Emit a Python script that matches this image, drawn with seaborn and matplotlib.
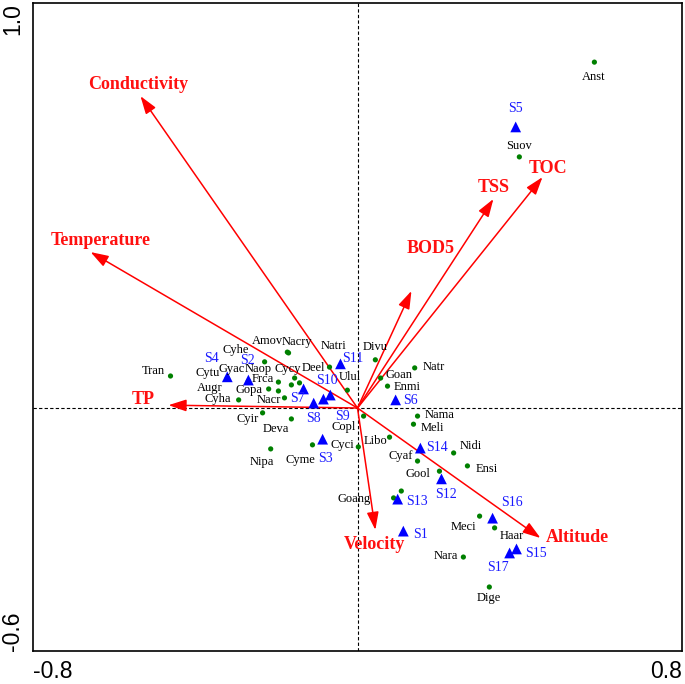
import numpy as np
import pandas as pd
import matplotlib
matplotlib.use("Agg")
import matplotlib.pyplot as plt
import seaborn as sns

# species scores
species_names = ["Anst", "Suov", "Tran", "Cyhe", "Amov", "Nacry", "Cytu", "Gyac", "Naop",
                 "Cycy", "Frca", "Augr", "Gopa", "Cyha", "Nacr", "Deel", "Natri", "Ulul",
                 "Divu", "Natr", "Goan", "Enmi", "Nama", "Meli", "Libo", "Copl", "Cyci",
                 "Cyir", "Deva", "Nipa", "Cyme", "Nidi", "Cyaf", "Ensi", "Gool", "Goang",
                 "", "Meci", "Haar", "Nara", "Dige"]
species_x = [0.584, 0.399, -0.461, -0.229, -0.173, -0.170, -0.321, -0.269, -0.163,
             -0.155, -0.195, -0.195, -0.219, -0.293, -0.180, -0.143, -0.069, -0.025,
             0.044, 0.141, 0.057, 0.074, 0.148, 0.138, 0.079, 0.015, 0.002,
             -0.234, -0.163, -0.214, -0.111, 0.237, 0.148, 0.271, 0.202, 0.089,
             0.108, 0.301, 0.338, 0.261, 0.325]
species_y = [0.854, 0.620, 0.079, 0.114, 0.138, 0.136, 0.074, 0.067, 0.057,
             0.074, 0.064, 0.042, 0.047, 0.020, 0.025, 0.062, 0.101, 0.044,
             0.119, 0.099, 0.074, 0.054, -0.020, -0.040, -0.072, -0.020, -0.096,
             -0.012, -0.027, -0.101, -0.091, -0.111, -0.131, -0.143, -0.156, -0.222,
             -0.205, -0.267, -0.296, -0.368, -0.442]

# sample sites
site_names = ["S1", "S2", "S3", "S4", "S5", "S6", "S7", "S8", "S9", "S10", "S11",
              "S12", "S13", "S14", "S15", "S16", "S17"]
site_x = [0.113, -0.269, -0.086, -0.321, 0.390, 0.094, -0.133, -0.108, -0.084, -0.067,
          -0.042, 0.207, 0.099, 0.155, 0.392, 0.333, 0.375]
site_y = [-0.304, 0.069, -0.077, 0.077, 0.694, 0.020, 0.047, 0.012, 0.022, 0.032,
          0.109, -0.175, -0.225, -0.099, -0.348, -0.272, -0.358]

# environmental variables
env_names = ["Conductivity", "Temperature", "TP", "BOD5", "TSS", "TOC", "Velocity", "Altitude"]
env_x = [-0.535, -0.658, -0.466, 0.133, 0.335, 0.456, 0.044, 0.451]
env_y = [0.770, 0.385, 0.007, 0.289, 0.516, 0.570, -0.301, -0.321]

x_ticks = [-0.8, -0.6, -0.4, -0.2, 0.0, 0.2, 0.4, 0.6, 0.8]
x_ticklabels = ["-0.8", "", "", "", "", "", "", "", "0.8"]
y_ticks = [-0.6, -0.4, -0.2, 0.0, 0.2, 0.4, 0.6, 0.8, 1.0]
y_ticklabels = ["-0.6", "", "", "", "", "", "", "", "1.0"]

# label offsets in pixels (placement only)
species_off = {"Anst": (-1, -15), "Suov": (0, 11), "Tran": (-17, 5), "Cyhe": (-29, 12),
               "Amov": (-20, 11), "Nacry": (8, 11), "Cytu": (-20, 5), "Gyac": (-17, 12),
               "Naop": (-33, 16), "Cycy": (-7, 9), "Frca": (-16, 3), "Augr": (-69, 3),
               "Gopa": (-20, -1), "Cyha": (-21, 1), "Nacr": (-16, -2), "Deel": (14, 15),
               "Natri": (4, 21), "Ulul": (3, 13), "Divu": (0, 13), "Natr": (19, 1),
               "Goan": (18, 3), "Enmi": (20, -1), "Nama": (22, 1), "Meli": (19, -4),
               "Libo": (-14, -4), "Copl": (-20, -11), "Cyci": (-16, 2), "Cyir": (-15, -6),
               "Deva": (-16, -10), "Nipa": (-9, -13), "Cyme": (-12, -15), "Nidi": (17, 7),
               "Cyaf": (-17, 5), "Ensi": (19, -3), "Gool": (-21, -3), "Goang": (-39, -1),
               "Meci": (-16, -11), "Haar": (17, -8), "Nara": (-18, 1), "Dige": (-1, -11)}
site_off = {"S1": (17, -3), "S2": (-1, 20), "S3": (3, -19), "S4": (-16, 18), "S5": (0, 18),
            "S6": (15, -1), "S7": (-6, -10), "S8": (0, -15), "S9": (19, -17), "S10": (-3, 15),
            "S11": (12, 5), "S12": (5, -16), "S13": (19, -2), "S14": (17, 1), "S15": (19, -5),
            "S16": (19, 16), "S17": (-12, -15)}
env_off = {"Conductivity": (-2, 12), "Temperature": (10, 12), "TP": (-25, 6), "BOD5": (19, 42),
           "TSS": (0, 12), "TOC": (6, 9), "Velocity": (-1, -15), "Altitude": (37, 1)}

sns.set_style("white")
plt.rcParams["font.family"] = ["Liberation Serif", "DejaVu Serif"]

species_df = pd.DataFrame({"name": species_names, "x": species_x, "y": species_y})
site_df = pd.DataFrame({"name": site_names, "x": site_x, "y": site_y})

fig = plt.figure(figsize=(6.85, 6.84), dpi=100)
ax = fig.add_axes([33 / 685, 1 - 651 / 684, 649 / 685, 648 / 684])

# reference axes
ax.axhline(0, color="black", lw=0.8, ls=(0, (3, 2)), zorder=1)
ax.axvline(0, color="black", lw=0.8, ls=(0, (3, 2)), zorder=1)

# environmental arrows
for name, x, y in zip(env_names, env_x, env_y):
    ax.annotate("", xy=(x, y), xytext=(0, 0),
                arrowprops=dict(arrowstyle="-|>,head_length=0.9,head_width=0.3",
                                color="#ff0000", lw=1.1, mutation_scale=12,
                                shrinkA=0, shrinkB=0), zorder=2)
    dx, dy = env_off[name]
    ax.annotate(name, (x, y), xytext=(dx, dy), textcoords="offset pixels",
                ha="center", va="center", color="#ff1010", fontsize=13,
                fontweight="bold", zorder=5)

sns.scatterplot(data=species_df, x="x", y="y", ax=ax, color="#008000", s=14,
                marker="o", edgecolor="none", linewidth=0, zorder=3)
sns.scatterplot(data=site_df, x="x", y="y", ax=ax, color="#0000ff", s=60,
                marker="^", edgecolor="none", linewidth=0, zorder=4)

for name, x, y in zip(species_names, species_x, species_y):
    if not name:
        continue
    dx, dy = species_off[name]
    ax.annotate(name, (x, y), xytext=(dx, dy), textcoords="offset pixels",
                ha="center", va="center", color="black", fontsize=9, zorder=5)

for name, x, y in zip(site_names, site_x, site_y):
    dx, dy = site_off[name]
    ax.annotate(name, (x, y), xytext=(dx, dy), textcoords="offset pixels",
                ha="center", va="center", color="#1a1aff", fontsize=10, zorder=5)

ax.set_xlim(-0.8, 0.8)
ax.set_ylim(-0.6, 1.0)
ax.set_xlabel("")
ax.set_ylabel("")
ax.set_xticks(x_ticks, x_ticklabels)
ax.set_yticks(y_ticks, y_ticklabels)
ax.tick_params(direction="inout", length=7, width=1.0, pad=3, colors="black")
for lab in ax.get_xticklabels() + ax.get_yticklabels():
    lab.set_family(["Liberation Sans Narrow", "Liberation Sans", "DejaVu Sans"])
    lab.set_fontsize(16.5)
xl = ax.get_xticklabels()
xl[0].set_ha("left")
xl[-1].set_ha("right")
yl = ax.get_yticklabels()
for lab in yl:
    lab.set_rotation(90)
yl[0].set_va("bottom")
yl[-1].set_va("top")

for sp in ax.spines.values():
    sp.set_color("black")
    sp.set_linewidth(1.2)

fig.savefig("out.png", dpi=100)
